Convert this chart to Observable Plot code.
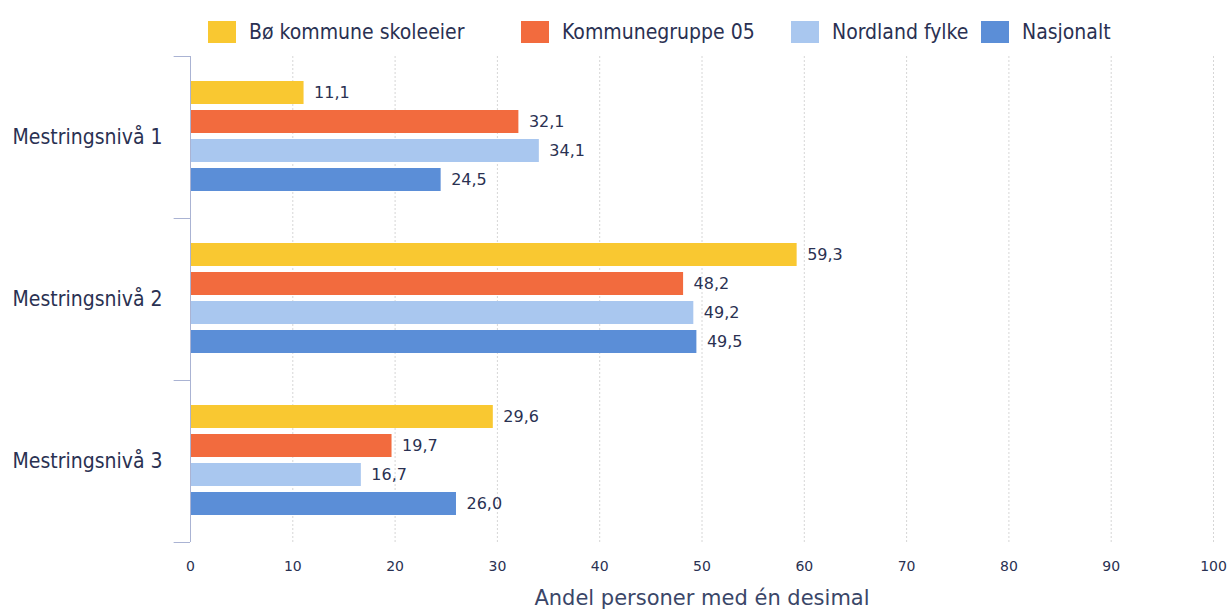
<!DOCTYPE html>
<html>
<head>
<meta charset="utf-8">
<script src="https://cdn.jsdelivr.net/npm/d3@7"></script>
<script src="https://cdn.jsdelivr.net/npm/@observablehq/plot@0.6"></script>
<style>
  html, body { margin: 0; padding: 0; background: #fff; }
  body { width: 1230px; height: 613px; overflow: hidden; font-family: "DejaVu Sans", Verdana, sans-serif; }
  #legend { position: relative; height: 50px; }
  .item { position: absolute; top: 7px; height: 50px; display: flex; align-items: center; }
  .sw { width: 28px; height: 22px; margin-right: 13px; }
  .lab { font-family: "DejaVu Sans Condensed", "DejaVu Sans", sans-serif; font-stretch: condensed; font-size: 21px; color: #2a3152; }
  .ylab text { font-family: "DejaVu Sans Condensed", "DejaVu Sans", sans-serif; font-stretch: condensed; }
</style>
</head>
<body>
<div id="legend"></div>
<div id="chart"></div>
<script>
const categories = ["Mestringsnivå 1", "Mestringsnivå 2", "Mestringsnivå 3"];
const seriesNames = ["Bø kommune skoleeier", "Kommunegruppe 05", "Nordland fylke", "Nasjonalt"];
const boValues = [11.1, 59.3, 29.6];
const kommunegruppeValues = [32.1, 48.2, 19.7];
const nordlandValues = [34.1, 49.2, 16.7];
const nasjonaltValues = [24.5, 49.5, 26.0];
const xTicks = [0, 10, 20, 30, 40, 50, 60, 70, 80, 90, 100];
const seriesColors = ["#f9c831", "#f26b3e", "#a9c7ef", "#5b8ed7"];
const xLabel = "Andel personer med én desimal";

const seriesValues = [boValues, kommunegruppeValues, nordlandValues, nasjonaltValues];
const rows = [];
seriesNames.forEach((s, i) => categories.forEach((c, j) => rows.push({series: s, si: i, cat: c, value: seriesValues[i][j]})));

// legend
const legendLefts = [208, 521, 791, 981];
const legend = document.getElementById("legend");
seriesNames.forEach((s, i) => {
  const it = document.createElement("div");
  it.className = "item";
  it.style.left = legendLefts[i] + "px";
  it.innerHTML = `<div class="sw" style="background:${seriesColors[i]}"></div><span class="lab">${s}</span>`;
  legend.appendChild(it);
});

const W = 1230, H = 563;
const mt = 6, mb = 71, ml = 190, mr = 17;
const bw = (H - mt - mb) / categories.length;
const barOffset = 25, barStep = 29, barH = 23;
const fmt = v => v.toFixed(1).replace(".", ",");
const textColor = "#2a3152";

const marks = [
  Plot.ruleX(xTicks.slice(1), {stroke: "#d6d6d6", strokeDasharray: "2,2"}),
];
seriesNames.forEach((s, i) => {
  const data = rows.filter(d => d.si === i);
  marks.push(Plot.barX(data, {
    x: "value", y: "cat", fill: seriesColors[i],
    insetTop: barOffset + barStep * i,
    insetBottom: bw - (barOffset + barStep * i + barH)
  }));
  marks.push(Plot.text(data, {
    x: "value", y: "cat", text: d => fmt(d.value),
    dx: 10, dy: barOffset + barStep * i + barH / 2 - bw / 2,
    textAnchor: "start", fill: textColor, fontSize: 16
  }));
});
marks.push(
  Plot.ruleX([0], {stroke: "#aab3d3"}),
  Plot.ruleY(categories, {y: d => d, x1: -1.6, x2: 0, dy: -bw / 2, stroke: "#aab3d3"}),
  Plot.ruleY(categories.slice(-1), {y: d => d, x1: -1.6, x2: 0, dy: bw / 2, stroke: "#aab3d3"}),
  Plot.axisX({ticks: xTicks, tickSize: 0, tickPadding: 19, fontSize: 14, fill: textColor, label: null, tickFormat: d => d}),
  Plot.axisY({tickSize: 0, tickPadding: 28, fontSize: 21, fill: textColor, label: null, className: "ylab"}),
  Plot.text([xLabel], {frameAnchor: "bottom", dy: 62, fontSize: 21, fill: "#3a4668"})
);

const chart = Plot.plot({
  width: W, height: H,
  marginTop: mt, marginBottom: mb, marginLeft: ml, marginRight: mr,
  style: {fontFamily: "'DejaVu Sans', Verdana, sans-serif", background: "#fff", overflow: "visible"},
  x: {domain: [0, 100]},
  y: {domain: categories, padding: 0},
  marks
});
document.getElementById("chart").appendChild(chart);
</script>
</body>
</html>
